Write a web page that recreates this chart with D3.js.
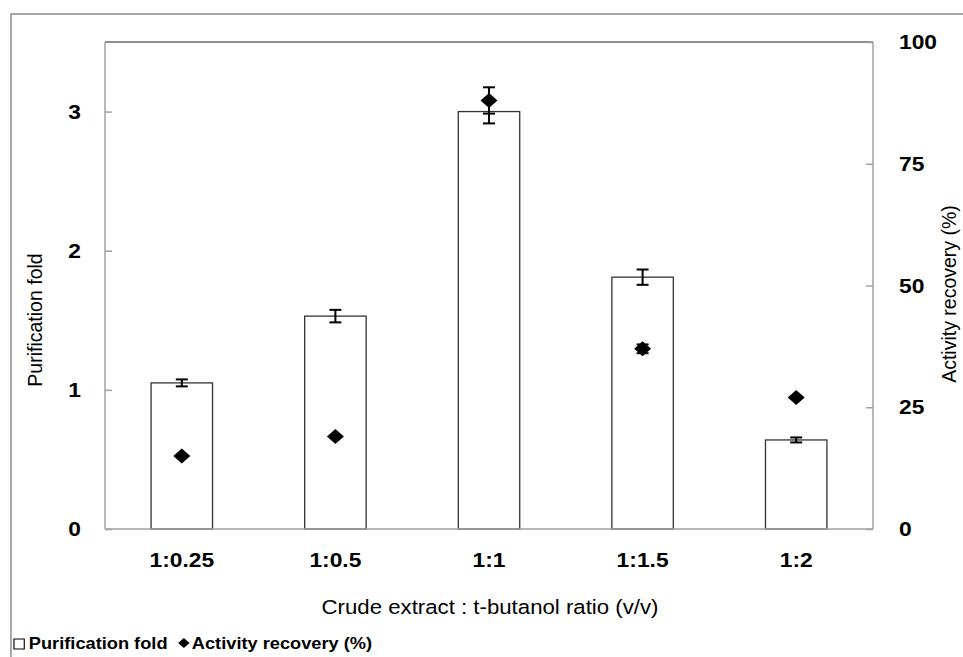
<!DOCTYPE html>
<html>
<head>
    <meta charset="UTF-8">
    <title>Purification fold and activity recovery</title>
    <script src="https://cdn.jsdelivr.net/npm/d3@7"></script>
    <style>
        body { margin: 0; background: #fff; }
        text { font-family: Arial, "Liberation Sans", sans-serif; fill: #000; }
        .tick-label { font-size: 20px; font-weight: bold; }
        .axis-title { font-size: 19.5px; }
        .legend { font-size: 16px; font-weight: bold; }
    </style>
</head>
<body>
<div id="chart"></div>
<script>
    // data
    var ratios = ["1:0.25", "1:0.5", "1:1", "1:1.5", "1:2"];
    var purificationFold = [1.05, 1.53, 3.0, 1.81, 0.64];
    var purificationErr = [0.025, 0.045, 0.085, 0.055, 0.018];
    var activityRecovery = [15.0, 19.0, 88.0, 37.0, 27.0];
    var activityErr = [0, 0, 2.7, 0.9, 0];
    var leftTicks = [0, 1, 2, 3];
    var rightTicks = [0, 25, 50, 75, 100];

    var W = 963, H = 657;
    var plot = {left: 105, right: 873, top: 42, bottom: 529};
    var stretch = 1.14; // the original picture is a little wider than tall

    function place(px, py) {
        return "translate(" + px + "," + py + ") scale(" + stretch + ",1)";
    }

    var svg = d3.select("#chart").append("svg")
        .attr("width", W)
        .attr("height", H);

    // outer frame
    svg.append("rect")
        .attr("x", 11).attr("y", 14)
        .attr("width", W).attr("height", H)
        .attr("fill", "none")
        .attr("stroke", "#8c8c8c")
        .attr("stroke-width", 1.5);

    var x = d3.scaleBand()
        .domain(ratios)
        .range([plot.left, plot.right])
        .paddingInner(0.6)
        .paddingOuter(0.3);

    var yL = d3.scaleLinear().domain([0, 3.5]).range([plot.bottom, plot.top]);
    var yR = d3.scaleLinear().domain([0, 100]).range([plot.bottom, plot.top]);

    // plot frame: top black, others grey
    svg.append("line")
        .attr("x1", plot.left).attr("x2", plot.right)
        .attr("y1", plot.top).attr("y2", plot.top)
        .attr("stroke", "#222").attr("stroke-width", 1.2);
    svg.append("line")
        .attr("x1", plot.right).attr("x2", plot.right)
        .attr("y1", plot.top).attr("y2", plot.bottom)
        .attr("stroke", "#a0a0a0").attr("stroke-width", 1.5);

    // bars
    svg.selectAll("rect.bar")
        .data(purificationFold)
        .enter().append("rect")
        .attr("class", "bar")
        .attr("x", function (d, i) { return x(ratios[i]); })
        .attr("width", x.bandwidth())
        .attr("y", function (d) { return yL(d); })
        .attr("height", function (d) { return yL(0) - yL(d); })
        .attr("fill", "#fff")
        .attr("stroke", "#333")
        .attr("stroke-width", 1.3);

    function cx(i) { return x(ratios[i]) + x.bandwidth() / 2; }

    function errorBar(g, xc, yTop, yBot) {
        g.append("line").attr("x1", xc).attr("x2", xc).attr("y1", yTop).attr("y2", yBot);
        g.append("line").attr("x1", xc - 6).attr("x2", xc + 6).attr("y1", yTop).attr("y2", yTop);
        g.append("line").attr("x1", xc - 6).attr("x2", xc + 6).attr("y1", yBot).attr("y2", yBot);
    }

    var errG = svg.append("g").attr("stroke", "#000").attr("stroke-width", 2);
    purificationFold.forEach(function (d, i) {
        errorBar(errG, cx(i), yL(d + purificationErr[i]), yL(d - purificationErr[i]));
    });
    activityRecovery.forEach(function (d, i) {
        if (activityErr[i] > 0) {
            errorBar(errG, cx(i), yR(d + activityErr[i]), yR(d - activityErr[i]));
        }
    });

    // diamonds
    var dw = 8.5, dh = 7.5;
    svg.selectAll("path.diamond")
        .data(activityRecovery)
        .enter().append("path")
        .attr("class", "diamond")
        .attr("d", function (d, i) {
            var px = cx(i), py = yR(d);
            return "M" + px + "," + (py - dh) + "L" + (px + dw) + "," + py +
                "L" + px + "," + (py + dh) + "L" + (px - dw) + "," + py + "Z";
        })
        .attr("fill", "#000");

    // left axis
    var leftAxis = svg.append("g")
        .attr("transform", "translate(" + plot.left + ",0)")
        .call(d3.axisRight(yL).tickValues(leftTicks).tickSize(7).tickFormat(""));
    leftAxis.select(".domain").remove();
    leftAxis.selectAll(".tick line").attr("stroke", "#a0a0a0").attr("stroke-width", 1.5);
    svg.append("line")
        .attr("x1", plot.left).attr("x2", plot.left)
        .attr("y1", plot.top).attr("y2", plot.bottom)
        .attr("stroke", "#a0a0a0").attr("stroke-width", 1.5);
    svg.selectAll("text.ltick")
        .data(leftTicks)
        .enter().append("text")
        .attr("class", "tick-label ltick")
        .attr("transform", function (d) { return place(81, yL(d) + 7); })
        .attr("text-anchor", "end")
        .text(function (d) { return d; });

    // right axis
    var rightAxis = svg.append("g")
        .attr("transform", "translate(" + plot.right + ",0)")
        .call(d3.axisLeft(yR).tickValues(rightTicks).tickSize(7).tickFormat(""));
    rightAxis.select(".domain").remove();
    rightAxis.selectAll(".tick line").attr("stroke", "#a0a0a0").attr("stroke-width", 1.5);
    svg.selectAll("text.rtick")
        .data(rightTicks)
        .enter().append("text")
        .attr("class", "tick-label rtick")
        .attr("transform", function (d) { return place(899, yR(d) + 7); })
        .attr("text-anchor", "start")
        .text(function (d) { return d; });

    // bottom axis
    svg.append("line")
        .attr("x1", plot.left).attr("x2", plot.right)
        .attr("y1", plot.bottom).attr("y2", plot.bottom)
        .attr("stroke", "#a0a0a0").attr("stroke-width", 1.5);
    svg.selectAll("text.xtick")
        .data(ratios)
        .enter().append("text")
        .attr("class", "tick-label xtick")
        .attr("transform", function (d, i) { return place(cx(i), 567); })
        .attr("text-anchor", "middle")
        .text(function (d) { return d; });

    // axis titles
    svg.append("text")
        .attr("class", "axis-title")
        .attr("transform", place(490, 614))
        .attr("text-anchor", "middle")
        .text("Crude extract : t-butanol ratio (v/v)");

    svg.append("text")
        .attr("class", "axis-title")
        .attr("transform", "translate(42,320) rotate(-90)")
        .attr("text-anchor", "middle")
        .text("Purification fold");

    svg.append("text")
        .attr("class", "axis-title")
        .attr("transform", "translate(956,294) rotate(-90)")
        .attr("text-anchor", "middle")
        .text("Activity recovery (%)");

    // legend
    var lg = svg.append("g").attr("transform", place(14, 649));
    lg.append("rect")
        .attr("x", 0).attr("y", -10)
        .attr("width", 9).attr("height", 10)
        .attr("fill", "#fff").attr("stroke", "#000").attr("stroke-width", 1);
    lg.append("text").attr("class", "legend").attr("x", 13).attr("y", 0).text("Purification fold");
    lg.append("path")
        .attr("d", "M149,-11L154,-6L149,-1L144,-6Z")
        .attr("fill", "#000");
    lg.append("text").attr("class", "legend").attr("x", 156).attr("y", 0).text("Activity recovery (%)");
</script>
</body>
</html>
